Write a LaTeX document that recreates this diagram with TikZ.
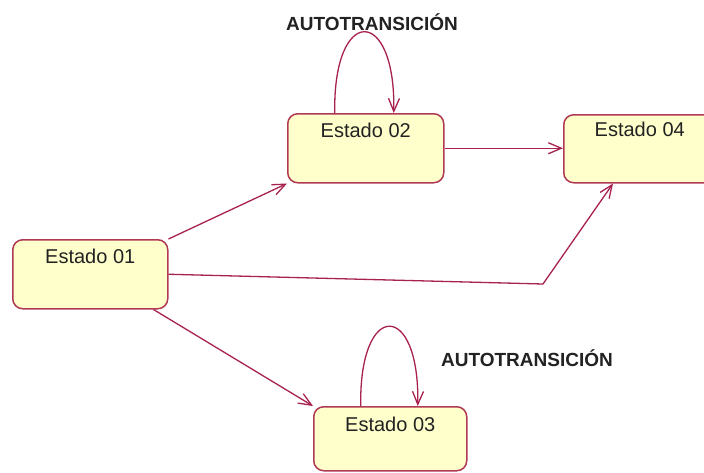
\documentclass[tikz,border=0pt]{standalone}
\usepackage{fontspec}
\setmainfont{Liberation Sans}
\usetikzlibrary{arrows.meta}
\definecolor{linec}{HTML}{A82250}
\definecolor{borderc}{HTML}{B03A55}
\definecolor{fillc}{HTML}{FFFFCC}
\definecolor{textc}{HTML}{222222}
\tikzset{
  statebox/.style={draw=borderc, fill=fillc, line width=1.5pt, rounded corners=10pt,
    inner sep=0pt, font=\fontsize{20}{23}\selectfont, text=textc},
  conn/.style={draw=linec, line width=1.3pt, -{Straight Barb[length=13pt,width=11pt,line width=1.3pt]}},
  lbl/.style={font=\bfseries\fontsize{19}{22}\selectfont, text=textc, inner sep=0pt}
}
\begin{document}
\begin{tikzpicture}[x=1pt,y=-1pt]
\useasboundingbox (0,0) rectangle (704,472);
\clip (0,0) rectangle (704,472);
\fill[white] (0,0) rectangle (704,472);
% states
\node[statebox, minimum width=155pt, text height=24pt, text depth=45pt, anchor=north west] (s1) at (12,239) {Estado 01};
\node[statebox, minimum width=156pt, text height=24pt, text depth=45pt, anchor=north west] (s2) at (287,113) {Estado 02};
\node[statebox, minimum width=153pt, text height=25pt, text depth=39pt, anchor=north west] (s3) at (313,406) {Estado 03};
\node[statebox, minimum width=152pt, text height=22pt, text depth=46pt, anchor=north west] (s4) at (563,114) {Estado 04};
% labels
\node[lbl] (l1) at (372,22) {AUTOTRANSICIÓN};
\node[lbl] (l2) at (527,358) {AUTOTRANSICIÓN};
% self loops
\draw[conn] ([xshift=-31pt]s2.north) .. controls ([xshift=-33pt,yshift=108pt]s2.north) and ([xshift=30pt,yshift=108pt]s2.north) .. ([xshift=28pt]s2.north);
\draw[conn] ([xshift=-29.5pt]s3.north) .. controls ([xshift=-31.5pt,yshift=106pt]s3.north) and ([xshift=29.5pt,yshift=106pt]s3.north) .. ([xshift=27.5pt]s3.north);
% transitions
\draw[conn] (s1.north east) -- (s2.south west);
\draw[conn] (s2.east) -- (s2.east -| s4.west);
\coordinate (bend) at (543,284);
\draw[conn] (s1.east) -- (bend) -- ([xshift=50pt]s4.south west);
\draw[conn] ([xshift=-15pt]s1.south east) -- (s3.north west);
\end{tikzpicture}
\end{document}
